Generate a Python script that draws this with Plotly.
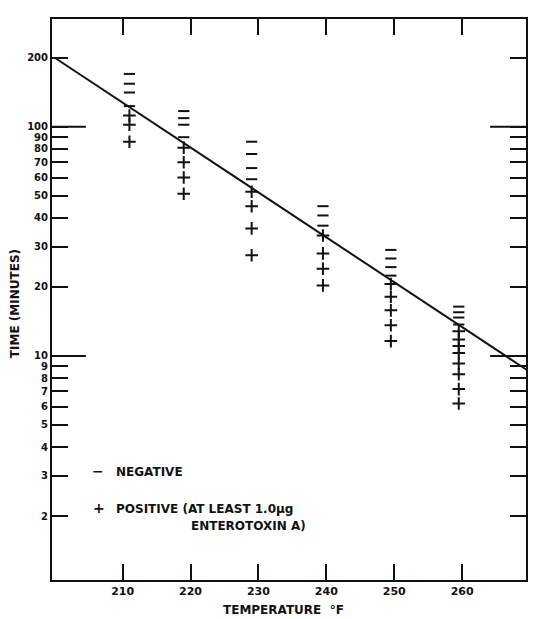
import plotly.graph_objects as go

# ---------------- data ----------------
TEMPS = [211, 219, 229, 239.5, 249.5, 259.5]
NEG_TIMES = [
    [170, 154, 141, 123],
    [117, 109, 102, 90],
    [86, 76, 66, 59],
    [45, 41, 37],
    [29, 26.6, 24.4, 22.4],
    [16.4, 15.5, 14.7, 13.7],
]
POS_TIMES = [
    [112, 102, 86],
    [81, 70, 60, 51],
    [52, 45, 36, 27.5],
    [33.5, 28, 24, 20.3],
    [20.6, 18.1, 15.8, 13.6, 11.6],
    [12.8, 11.8, 11.05, 10.3, 9.26, 8.32, 7.16, 6.2],
]
FIT_TEMP = [200, 270]
FIT_TIME = [200, 8.5]

X_TICKS = [210, 220, 230, 240, 250, 260]
Y_TICKS = [2, 3, 4, 5, 6, 7, 8, 9, 10, 20, 30, 40, 50, 60, 70, 80, 90, 100, 200]
Y_LONG_TICKS = [10, 100]

# ---------------- layout geometry ----------------
OFF = 8  # page body margin
W, H = 537 - OFF, 619 - OFF
ML, MR, MT, MB = 52 - OFF, 9, 17 - OFF, 39
PW, PH = W - ML - MR, H - MT - MB


def px(x):
    return (x - OFF - ML) / PW


def py(y):
    return (H - MB - (y - OFF)) / PH


FONT = "DejaVu Sans"
BLACK = "#111111"

neg_x, neg_y, pos_x, pos_y = [], [], [], []
for t, ns, ps in zip(TEMPS, NEG_TIMES, POS_TIMES):
    neg_x += [t] * len(ns)
    neg_y += ns
    pos_x += [t] * len(ps)
    pos_y += ps

fig = go.Figure()
fig.add_trace(go.Scatter(x=FIT_TEMP, y=FIT_TIME, mode="lines",
                         line=dict(color=BLACK, width=2), showlegend=False,
                         hoverinfo="skip"))
fig.add_trace(go.Scatter(x=neg_x, y=neg_y, mode="markers", name="NEGATIVE",
                         marker=dict(symbol="line-ew", size=8,
                                     line=dict(color=BLACK, width=2)),
                         showlegend=False))
fig.add_trace(go.Scatter(x=pos_x, y=pos_y, mode="markers", name="POSITIVE",
                         marker=dict(symbol="cross-thin", size=9,
                                     line=dict(color=BLACK, width=2)),
                         showlegend=False))

# long decade ticks on both sides
long_len = 34 / PW
for v in Y_LONG_TICKS:
    fig.add_shape(type="line", xref="paper", yref="y", x0=0, x1=long_len,
                  y0=v, y1=v, line=dict(color=BLACK, width=2))
    fig.add_shape(type="line", xref="paper", yref="y", x0=1 - long_len - 2 / PW,
                  x1=1, y0=v, y1=v, line=dict(color=BLACK, width=2))

fig.update_layout(
    width=W, height=H,
    margin=dict(l=ML, r=MR, t=MT, b=MB),
    paper_bgcolor="white", plot_bgcolor="white",
    font=dict(family=FONT, color=BLACK, size=11),
    showlegend=False,
    xaxis=dict(range=[199.6, 269.4], tickvals=X_TICKS,
               ticktext=[str(v) for v in X_TICKS],
               ticks="inside", ticklen=16, tickwidth=2, tickcolor=BLACK,
               showline=True, linecolor=BLACK, linewidth=2, mirror="ticks",
               showgrid=False, zeroline=False,
               tickfont=dict(family=FONT, size=11, weight="bold")),
    yaxis=dict(type="log", range=[0.022, 2.470], tickvals=Y_TICKS,
               ticktext=[str(v) for v in Y_TICKS],
               ticks="inside", ticklen=16, tickwidth=2, tickcolor=BLACK,
               showline=True, linecolor=BLACK, linewidth=2, mirror="ticks",
               showgrid=False, zeroline=False,
               tickfont=dict(family=FONT, size=10, weight="bold")),
)

ann = [
    dict(text="TEMPERATURE  °F", x=px(284), y=py(610), xanchor="center",
         yanchor="middle", font=dict(size=12, weight="bold")),
    dict(text="TIME (MINUTES)", x=px(15), y=py(303), xanchor="center",
         yanchor="middle", textangle=-90, font=dict(size=12, weight="bold")),
    dict(text="−", x=px(98), y=py(471), xanchor="center", yanchor="middle",
         font=dict(size=14, weight="bold")),
    dict(text="NEGATIVE", x=px(114), y=py(472), xanchor="left",
         yanchor="middle", font=dict(size=12, weight="bold")),
    dict(text="+", x=px(99), y=py(508), xanchor="center", yanchor="middle",
         font=dict(size=14, weight="bold")),
    dict(text="POSITIVE (AT LEAST 1.0µg", x=px(114), y=py(509),
         xanchor="left", yanchor="middle", font=dict(size=12, weight="bold")),
    dict(text="ENTEROTOXIN A)", x=px(190), y=py(526), xanchor="left",
         yanchor="middle", font=dict(size=12, weight="bold")),
]
for a in ann:
    a.update(xref="paper", yref="paper", showarrow=False)
fig.update_layout(annotations=ann)

fig.write_html("out.html")
